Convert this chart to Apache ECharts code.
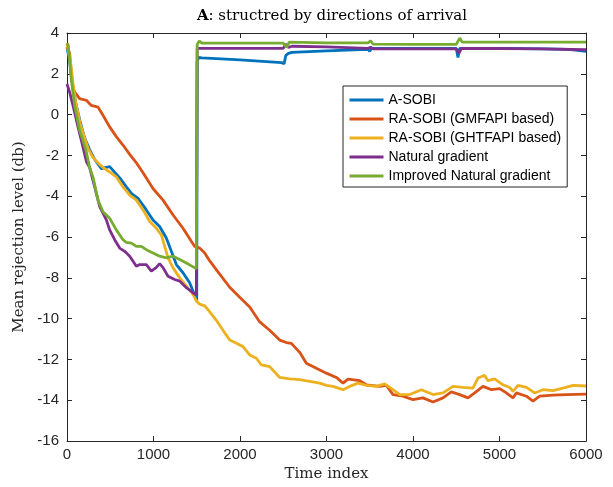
<!DOCTYPE html>
<html>
<head>
<meta charset="utf-8">
<script src="https://cdn.jsdelivr.net/npm/echarts@6/dist/echarts.min.js"></script>
<style>
  html, body { margin: 0; padding: 0; background: #fff; }
  #chart { width: 613px; height: 487px; }
</style>
</head>
<body>
<div id="chart"></div>
<script>
// tick values
const xTicks = [0, 1000, 2000, 3000, 4000, 5000, 6000];
const yTicks = [-16, -14, -12, -10, -8, -6, -4, -2, 0, 2, 4];

const seriesNames = [
  'A-SOBI',
  'RA-SOBI (GMFAPI based)',
  'RA-SOBI (GHTFAPI based)',
  'Natural gradient',
  'Improved Natural gradient'
];
const colors = ['#0072BD', '#D95319', '#EDB120', '#7E2F8E', '#77AC30'];

// [time index, mean rejection level (db)]
const aSobi = [
  [0, 3.3], [31, 2.6], [60, 1.6], [100, 0.6], [150, -0.3], [200, -1.1], [260, -1.7],
  [320, -2.2], [397, -2.65], [440, -2.6], [493, -2.55], [532, -2.73], [610, -3.1],
  [686, -3.54], [744, -3.86], [821, -4.1], [917, -4.67], [994, -5.16], [1071, -5.48],
  [1148, -6.05], [1206, -6.7], [1264, -7.35], [1341, -7.75], [1418, -8.24], [1488, -8.97],
  [1500, -9.1], [1505, 2.6], [1520, 2.8], [1560, 2.78], [2000, 2.68], [2480, 2.55],
  [2510, 2.5], [2530, 2.9], [2560, 3.0], [2600, 3.05], [3000, 3.12], [3480, 3.2],
  [3500, 3.1], [3520, 3.25], [4000, 3.25], [4500, 3.25], [4520, 2.8], [4540, 3.25],
  [5000, 3.25], [5500, 3.22], [5800, 3.2], [6000, 3.1]
];
const raSobiGmfapi = [
  [0, 3.3], [31, 3.0], [50, 2.0], [70, 1.3], [89, 1.1], [146, 0.78], [224, 0.7],
  [281, 0.45], [358, 0.37], [416, -0.03], [493, -0.6], [570, -1.08], [647, -1.49],
  [725, -1.95], [800, -2.35], [879, -2.85], [994, -3.62], [1110, -4.19], [1226, -4.92],
  [1341, -5.57], [1437, -6.21], [1476, -6.46], [1534, -6.54], [1592, -6.78], [1650, -7.17],
  [1765, -7.82], [1881, -8.46], [1997, -8.95], [2112, -9.43], [2228, -10.16], [2343, -10.57],
  [2459, -11.05], [2536, -11.17], [2594, -11.21], [2690, -11.65], [2767, -12.18],
  [2883, -12.43], [2998, -12.67], [3114, -12.88], [3191, -13.16], [3249, -12.96],
  [3384, -13.04], [3461, -13.24], [3615, -13.32], [3692, -13.27], [3769, -13.72],
  [3884, -13.8], [4000, -13.97], [4115, -13.88], [4231, -14.08], [4347, -13.88],
  [4443, -13.59], [4540, -13.72], [4636, -13.88], [4713, -13.64], [4809, -13.32],
  [4906, -13.48], [5002, -13.43], [5079, -13.64], [5156, -13.88], [5195, -13.64],
  [5311, -13.8], [5387, -14.04], [5465, -13.8], [5618, -13.75], [5773, -13.72], [6000, -13.7]
];
const raSobiGhtfapi = [
  [0, 3.5], [31, 2.8], [50, 2.3], [70, 1.5], [100, 0.6], [150, -0.4], [200, -1.1],
  [243, -1.65], [300, -2.1], [378, -2.45], [435, -2.65], [493, -2.81], [570, -3.05],
  [647, -3.54], [725, -3.94], [802, -4.19], [879, -4.67], [956, -5.24], [1033, -5.57],
  [1091, -5.89], [1129, -6.46], [1168, -7.02], [1226, -7.51], [1303, -8.0], [1380, -8.4],
  [1457, -8.81], [1495, -9.13], [1534, -9.29], [1592, -9.37], [1650, -9.67], [1727, -10.08],
  [1804, -10.57], [1881, -11.05], [1958, -11.21], [2035, -11.37], [2112, -11.78],
  [2189, -11.94], [2247, -12.27], [2343, -12.35], [2459, -12.88], [2575, -12.95],
  [2690, -12.99], [2806, -13.07], [2921, -13.16], [2998, -13.27], [3075, -13.32],
  [3190, -13.48], [3268, -13.32], [3364, -13.16], [3461, -13.27], [3577, -13.32],
  [3673, -13.2], [3769, -13.48], [3846, -13.72], [3962, -13.72], [4097, -13.48],
  [4231, -13.72], [4347, -13.64], [4462, -13.32], [4578, -13.37], [4693, -13.4],
  [4751, -12.91], [4828, -12.78], [4867, -13.04], [4944, -12.95], [5040, -13.24],
  [5118, -13.37], [5156, -13.56], [5214, -13.27], [5311, -13.37], [5407, -13.64],
  [5503, -13.48], [5618, -13.53], [5734, -13.4], [5850, -13.27], [6000, -13.3]
];
const naturalGradient = [
  [0, 1.5], [30, 1.1], [69, 0.45], [127, -0.6], [185, -1.6], [224, -2.3], [262, -2.6],
  [320, -3.54], [378, -4.51], [455, -5.16], [493, -5.65], [551, -6.13], [609, -6.54],
  [667, -6.7], [725, -6.94], [802, -7.43], [840, -7.35], [879, -7.35], [917, -7.35],
  [975, -7.67], [1030, -7.5], [1071, -7.3], [1110, -7.5], [1168, -7.92], [1245, -8.08],
  [1303, -8.16], [1380, -8.48], [1457, -8.73], [1495, -8.85], [1505, 3.25], [2000, 3.25],
  [2500, 3.25], [2530, 3.45], [2560, 3.3], [2600, 3.35], [3000, 3.32], [3480, 3.25],
  [3510, 3.3], [3540, 3.22], [4000, 3.22], [4500, 3.22], [4530, 3.0], [4560, 3.25],
  [5000, 3.24], [5500, 3.22], [6000, 3.18]
];
const improvedNaturalGradient = [
  [0, 3.5], [15, 3.4], [50, 1.7], [90, 0.4], [146, -0.76], [220, -1.75], [262, -2.6],
  [300, -3.05], [358, -4.19], [416, -4.76], [493, -5.08], [570, -5.65], [647, -6.13],
  [686, -6.26], [744, -6.3], [802, -6.46], [859, -6.46], [917, -6.62], [994, -6.78],
  [1071, -6.94], [1148, -7.02], [1226, -6.94], [1303, -7.1], [1380, -7.27], [1457, -7.46],
  [1495, -7.55], [1505, 3.45], [1530, 3.6], [1560, 3.5], [2000, 3.5], [2500, 3.5],
  [2540, 3.3], [2570, 3.55], [3000, 3.52], [3480, 3.52], [3510, 3.62], [3540, 3.45],
  [4000, 3.44], [4500, 3.44], [4540, 3.75], [4570, 3.55], [5000, 3.55], [5500, 3.55],
  [6000, 3.55]
];

const allData = [aSobi, raSobiGmfapi, raSobiGhtfapi, naturalGradient, improvedNaturalGradient];

const axisColor = '#262626';
const labelFont = 'Liberation Sans, Arial, sans-serif';
const serifFont = 'DejaVu Serif, Liberation Serif, serif';

const chart = echarts.init(document.getElementById('chart'), null, { renderer: 'canvas' });

const xBase = {
  type: 'value', min: xTicks[0], max: xTicks[xTicks.length - 1], interval: 1000,
  axisLine: { show: true, onZero: false, lineStyle: { color: axisColor, width: 1 } },
  axisTick: { show: true, inside: true, length: 5, lineStyle: { color: axisColor } },
  splitLine: { show: false }
};
const yBase = {
  type: 'value', min: yTicks[0], max: yTicks[yTicks.length - 1], interval: 2,
  axisLine: { show: true, onZero: false, lineStyle: { color: axisColor, width: 1 } },
  axisTick: { show: true, inside: true, length: 5, lineStyle: { color: axisColor } },
  splitLine: { show: false }
};

chart.setOption({
  animation: false,
  backgroundColor: '#fff',
  title: {
    text: '{b|A}: structred by directions of arrival',
    left: 327, top: 4, textAlign: 'center',
    textStyle: {
      fontFamily: serifFont, fontSize: 15, fontWeight: 'normal', color: '#000',
      rich: { b: { fontFamily: serifFont, fontSize: 15, fontWeight: 'bold', color: '#000' } }
    }
  },
  grid: { left: 67, top: 33, width: 519, height: 410 },
  legend: {
    data: seriesNames,
    orient: 'vertical',
    left: 343, top: 86,
    padding: [7, 6, 4, 5],
    itemWidth: 34, itemHeight: 14, itemGap: 5,
    itemStyle: { opacity: 0 },
    lineStyle: { width: 3 },
    borderColor: axisColor, borderWidth: 1,
    backgroundColor: '#fff',
    textStyle: { fontFamily: labelFont, fontSize: 14, color: '#000', lineHeight: 14 }
  },
  xAxis: [
    Object.assign({}, xBase, {
      position: 'bottom',
      name: 'Time index', nameLocation: 'middle', nameGap: 21,
      nameTextStyle: { fontFamily: serifFont, fontSize: 15, color: '#262626' },
      axisLabel: {
        fontFamily: labelFont, fontSize: 15, color: axisColor, margin: 6,
        formatter: v => String(v)
      }
    }),
    Object.assign({}, xBase, { position: 'top', axisLabel: { show: false } })
  ],
  yAxis: [
    Object.assign({}, yBase, {
      position: 'left',
      name: 'Mean rejection level (db)', nameLocation: 'middle', nameGap: 37,
      nameTextStyle: { fontFamily: serifFont, fontSize: 15, color: '#262626' },
      axisLabel: { fontFamily: labelFont, fontSize: 15, color: axisColor, margin: 8 }
    }),
    Object.assign({}, yBase, { position: 'right', axisLabel: { show: false } })
  ],
  series: seriesNames.map((name, i) => ({
    name: name,
    type: 'line',
    data: allData[i],
    showSymbol: false,
    symbol: 'none',
    xAxisIndex: 0, yAxisIndex: 0,
    color: colors[i],
    lineStyle: { color: colors[i], width: 2.8 }
  }))
});
</script>
</body>
</html>
